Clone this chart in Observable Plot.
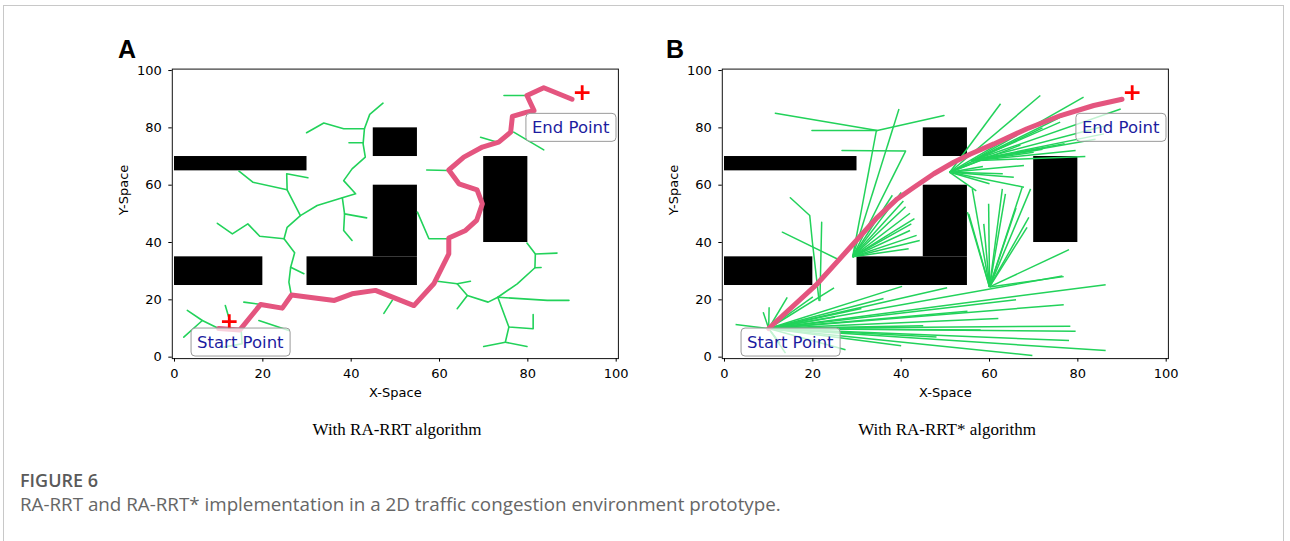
<!DOCTYPE html>
<html><head><meta charset="utf-8">
<script src="https://cdn.jsdelivr.net/npm/d3@7"></script>
<script src="https://cdn.jsdelivr.net/npm/@observablehq/plot@0.6"></script>
<style>
html,body{margin:0;padding:0;background:#fff}
body{width:1290px;height:541px;overflow:hidden;position:relative}
.panel{position:absolute}
#overlay{position:absolute;left:0;top:0}
</style>
</head><body>
<svg id="overlay" width="1290" height="541">
  <rect x="3.5" y="5.5" width="1280" height="600" fill="none" stroke="#c8c8c8" stroke-width="1"/>
  <text x="118" y="58" font-family="Liberation Sans, Arial, sans-serif" font-weight="bold" font-size="25">A</text>
  <text x="666" y="58" font-family="Liberation Sans, Arial, sans-serif" font-weight="bold" font-size="25">B</text>
  <text x="397" y="435" text-anchor="middle" font-family="Liberation Serif, Times New Roman, serif" font-size="17">With RA-RRT algorithm</text>
  <text x="947" y="435" text-anchor="middle" font-family="Liberation Serif, Times New Roman, serif" font-size="17">With RA-RRT* algorithm</text>
  <text x="20" y="487" font-family="Open Sans, sans-serif" font-weight="600" font-size="18" fill="#5a5a5a">FIGURE 6</text>
  <text x="20" y="511" font-family="Open Sans, sans-serif" font-size="18.8" fill="#666">RA-RRT and RA-RRT* implementation in a 2D traffic congestion environment prototype.</text>
</svg>
<div id="pA" class="panel" style="left:110px;top:60px"></div>
<div id="pB" class="panel" style="left:660px;top:60px"></div>
<script>
// ---------- data ----------
const ticks = [0, 20, 40, 60, 80, 100];
const obsX1 = [0, 0, 45, 30, 45, 70];
const obsX2 = [30, 20, 55, 55, 55, 80];
const obsY1 = [65, 25, 70, 25, 35, 40];
const obsY2 = [70, 35, 80, 35, 60, 70];

const labelText = ["Start Point", "End Point"];
const labelX = [14.9, 89.7];
const labelY = [5.2, 80.1];

const plusAX = [12.4, 92.3];
const plusAY = [12.4, 92.3];
const plusBX = [92.3];
const plusBY = [92.3];

// RA-RRT path (A)
const pathAX = [10, 14.8, 19.5, 24.4, 26.5, 36.2, 40.2, 45.5, 54.2, 58.7, 62.1, 62.1, 65.9, 68.4, 69.7, 68.5, 64.4, 62.1, 65.5, 69.7, 73.4, 76.1, 76.5, 79.8, 81.4, 79.8, 83.6, 90];
const pathAY = [10, 9.5, 18.4, 17.1, 21.7, 19.8, 22.1, 23.3, 18.0, 25.6, 36.0, 41.6, 44.2, 47.7, 53.5, 58.4, 60.5, 65.3, 69.8, 73.3, 75.0, 78.5, 84.0, 85.5, 86.0, 91.3, 94.0, 90];

// RA-RRT tree branches (A)
const treeA = [
  [[26.4,22.1],[25.9,26.2],[26.3,31.4],[27.2,36.4],[24.8,41.3],[25.5,45.3],[28.5,49.4],[32.3,52.9],[38.0,55.6],[41.0,57.0],[38.3,61.6],[40.2,65.7],[43.2,69.8],[42.7,74.4],[43.0,79.7],[44.2,84.7],[47.2,88.6]],
  [[43.0,79.7],[38.3,79.7],[33.8,81.7],[29.9,78.3]],
  [[42.7,74.8],[39.5,74.8]],
  [[38.0,55.6],[38.5,50.0],[43.5,48.6]],
  [[38.5,50.0],[38.3,44.2],[40.2,40.7]],
  [[24.8,41.3],[19.3,42.2],[16.6,46.5],[13.1,43.0],[9.7,46.7]],
  [[28.5,49.4],[25.5,58.4],[25.4,64.0],[30.2,62.6]],
  [[25.5,58.4],[17.8,61.0],[14.6,64.9]],
  [[26.3,31.4],[29.3,29.1]],
  [[2.9,16.3],[6.3,12.8],[10,10]],
  [[6.3,12.8],[2.1,7.0]],
  [[11.5,18.0],[12.5,12.8]],
  [[15.7,19.2],[19.6,18.4]],
  [[19.1,12.8],[25.9,9.3]],
  [[11.2,3.5],[15.3,4.7],[15.1,9.3]],
  [[74.6,91.3],[79.5,91.3]],
  [[69.3,76.7],[73.1,75.0]],
  [[76.8,78.5],[83.6,72.3]],
  [[57.1,65.3],[62.0,65.1]],
  [[55.0,50.6],[57.6,41.3],[61.7,41.3]],
  [[79.8,39.8],[81.7,36.0],[81.6,31.2],[77.6,25.6],[73.2,20.9],[71.0,19.2],[66.3,21.5],[64.0,25.6],[59.5,26.5]],
  [[81.7,36.0],[86.6,36.3]],
  [[81.6,31.2],[83.0,31.3]],
  [[64.0,25.6],[67.0,26.5]],
  [[66.3,21.5],[64.0,16.9]],
  [[73.2,20.9],[84.4,19.8],[89.3,19.8]],
  [[73.2,20.9],[75.7,10.5],[81.2,9.9],[81.2,14.9]],
  [[75.7,10.5],[74.9,5.2],[70.0,3.7]],
  [[74.9,5.2],[79.8,3.7]],
  [[47.4,15.3],[49.3,19.8]]
];

// RA-RRT* path (B)
const pathBX = [10, 21, 27.8, 34.6, 39.1, 42.9, 47.4, 51.9, 55.7, 61, 68.5, 76.1, 83.6, 90];
const pathBY = [10, 25.6, 37.2, 48.8, 55.2, 59.3, 64, 68, 70.9, 74.4, 79.7, 84.3, 87.8, 90];

// RA-RRT* rewired fans (B): hub nodes and their children
const hubsB = [[10,10],[60,24.5],[29,35],[51,64.5],[56,68.5]];
const endsStart = [[86.3,25.3],[76.8,18.3],[78.3,10.8],[79.5,9.0],[78.0,5.8],[86.3,2.3],[69.7,0.6],[50.4,24.2],[40.2,24.7],[24.8,24.2],[27.4,2.6],[13.8,1.4],[2.5,11.4],[10.1,17.4],[14.2,20.9],[76.5,28.3],[55,16],[62,13.5],[48,7],[36,20.5],[31,17],[66,20],[45,11],[58,9.5],[20,21],[25,14],[40,4]];
const endsHub60 = [[56.1,58.7],[55.3,50],[59.8,53.5],[62.9,58.7],[63.6,57],[67.4,59.3],[69.3,58.7],[68.9,48.8],[68.5,45.3],[78,37.5],[76.8,28.1],[55,50.6],[58.7,46.5],[66,52]];
const endsHub29 = [[42,50.2],[42.3,46.5],[42,44.2],[44.2,40.7],[41.7,37.8],[41,52.5],[43,48.3],[40.5,54.5],[43.5,42.5],[39.5,86.6],[34.4,79.1],[41,71.9],[38,56.5],[40,57.5]];
const endsHub51 = [[62.5,88.4],[71.5,91.3],[67,74],[72,80],[66,78],[60,70],[58.5,66.5],[60,60.5],[57,58],[63,64],[65.5,62.8],[67.8,59.3],[67.8,66.9]];
const endsHub56 = [[81.3,90.7],[79.1,86],[89.7,86.6],[85.9,77.9],[81.7,70],[79.5,72.1],[84,76],[87,81],[76,82],[77,74.5],[72,72.5],[70,71.5]];
const branchesB = [
  [[11.5,85.1],[34.6,79.1],[49.7,84.3]],
  [[19.8,79.1],[34.6,79.1]],
  [[26.6,72.1],[41,71.9]],
  [[14.9,55.6],[19.3,49.4],[19.9,40.1],[21.4,19.8]],
  [[13.1,43.6],[25.9,34]],
  [[22,47.1],[21.6,19.8]],
  [[10,10],[8.8,15.5]],
  [[10,10],[12.5,5]]
];

// ---------- build ----------
const GREEN = "#22d25a";
const PINK = "#e4557f";
const obstacles = obsX1.map((x1, i) => ({x1, x2: obsX2[i], y1: obsY1[i], y2: obsY2[i]}));
const labels = labelText.map((t, i) => ({t, x: labelX[i], y: labelY[i]}));
const toPts = (xs, ys) => xs.map((x, i) => ({x, y: ys[i]}));
const polyRows = (branches) => branches.flatMap((b, k) => b.map(([x, y]) => ({x, y, k})));
const fanSegs = [endsStart, endsHub60, endsHub29, endsHub51, endsHub56].flatMap((ends, h) =>
  ends.map(([x2, y2]) => ({x1: hubsB[h][0], y1: hubsB[h][1], x2, y2})));

function panel(treeMarks, pathPts, plusPts, pathW) {
  return Plot.plot({
    width: 530, height: 350,
    marginLeft: 61.8, marginRight: 22.1, marginTop: 8.6, marginBottom: 51.9,
    x: {domain: [-0.5, 100.5]},
    y: {domain: [-0.5, 100.5]},
    style: {fontFamily: "DejaVu Sans", fontSize: "13px", color: "#000", background: "#fff"},
    marks: [
      Plot.rect(obstacles, {x1: "x1", x2: "x2", y1: "y1", y2: "y2", fill: "#000"}),
      ...treeMarks,
      Plot.line(pathPts, {x: "x", y: "y", stroke: PINK, strokeWidth: pathW, strokeLinejoin: "round", strokeLinecap: "round"}),
      Plot.dot(plusPts, {x: "x", y: "y", symbol: "plus", r: 4.8, stroke: "#ff0000", strokeWidth: 2.8}),
      Plot.text(labels, {x: "x", y: "y", text: "t", fontSize: 16.5, fill: "#1c1ca0", fontFamily: "DejaVu Sans"}),
      Plot.frame({stroke: "#111", strokeWidth: 1}),
      Plot.axisX({ticks, tickSize: 3.5, tickPadding: 6.5, label: null, tickFormat: d => d}),
      Plot.axisY({ticks, tickSize: 3.5, tickPadding: 7, label: null, tickFormat: d => d}),
      Plot.text(["X-Space"], {frameAnchor: "bottom", dy: 34.6, lineAnchor: "middle", fontSize: 13}),
      Plot.text(["Y-Space"], {frameAnchor: "left", dx: -48.5, dy: 1.5, rotate: -90, lineAnchor: "middle", fontSize: 13})
    ]
  });
}

function addBoxes(svg) {
  for (const t of svg.querySelectorAll("text")) {
    if (labelText.includes(t.textContent)) {
      const b = t.getBBox();
      const r = document.createElementNS("http://www.w3.org/2000/svg", "rect");
      r.setAttribute("x", b.x - 6);
      r.setAttribute("y", b.y - 4.5);
      r.setAttribute("width", b.width + 12);
      r.setAttribute("height", b.height + 9);
      r.setAttribute("rx", 4);
      r.setAttribute("fill", "#fff");
      r.setAttribute("fill-opacity", 0.72);
      r.setAttribute("stroke", "#9a9a9a");
      r.setAttribute("stroke-width", 1);
      const tr = t.getAttribute("transform");
      if (tr) r.setAttribute("transform", tr);
      t.parentNode.insertBefore(r, t);
    }
  }
}

const svgA = panel(
  [Plot.line(polyRows(treeA), {x: "x", y: "y", z: "k", stroke: GREEN, strokeWidth: 1.6, strokeLinejoin: "round"})],
  toPts(pathAX, pathAY), toPts(plusAX, plusAY), 5
);
document.getElementById("pA").appendChild(svgA);
addBoxes(svgA);

const svgB = panel(
  [
    Plot.link(fanSegs, {x1: "x1", y1: "y1", x2: "x2", y2: "y2", stroke: GREEN, strokeWidth: 1.5}),
    Plot.line(polyRows(branchesB), {x: "x", y: "y", z: "k", stroke: GREEN, strokeWidth: 1.5})
  ],
  toPts(pathBX, pathBY), toPts(plusBX, plusBY), 5
);
document.getElementById("pB").appendChild(svgB);
addBoxes(svgB);
</script>
</body></html>
